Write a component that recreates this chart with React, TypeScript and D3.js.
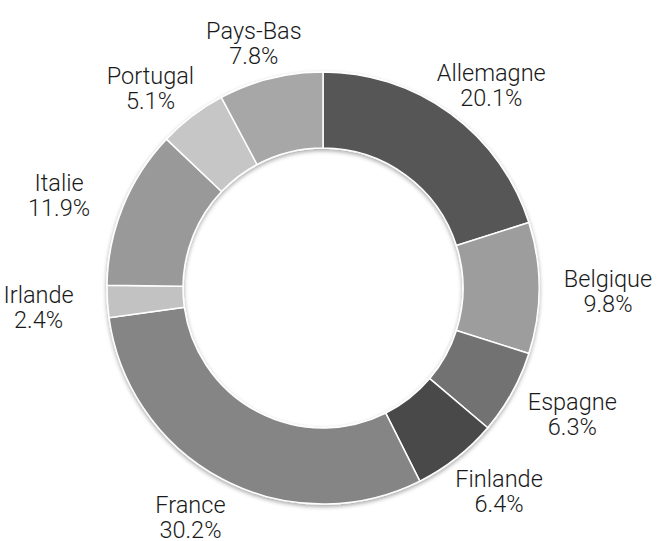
import React from 'react';
import {pie, arc} from 'd3';

const countries = ['Allemagne', 'Belgique', 'Espagne', 'Finlande', 'France', 'Irlande', 'Italie', 'Portugal', 'Pays-Bas'];
const shares = [20.1, 9.8, 6.3, 6.4, 30.2, 2.4, 11.9, 5.1, 7.8];
const greys = ['#565656', '#9d9d9d', '#727272', '#484848', '#858585', '#c2c2c2', '#999999', '#c6c6c6', '#a7a7a7'];

const width = 658;
const height = 541;
const cx = 323;
const cy = 288;
const outerR = 216;
const innerR = 140;
// labels sit on an ellipse round the ring
const labelRx = 285;
const labelRy = 255;
const fontSize = 23.5;
const lineGap = 25;

export default function App() {
    const rows = countries.map((name, i) => ({name, value: shares[i], color: greys[i]}));
    const slices = pie<any>().value(d => d.value).sort(null)(rows);
    const ringArc = arc<any>().innerRadius(innerR).outerRadius(outerR);

    return (
        <svg width={width} height={height} style={{position: 'absolute', left: 0, top: 0}}
             fontFamily="Roboto, 'Helvetica Neue', Arial, sans-serif">
            <defs>
                <filter id="ringShadow" x="-20%" y="-20%" width="140%" height="140%">
                    <feDropShadow dx="0" dy="2" stdDeviation="2" floodColor="#000" floodOpacity="0.35"/>
                </filter>
            </defs>
            <g transform={`translate(${cx},${cy})`}>
                <g filter="url(#ringShadow)">
                    {slices.map((d, idx) => (
                        <path key={idx} d={ringArc(d) as string} fill={d.data.color}
                              stroke="#fff" strokeWidth={1.5}/>
                    ))}
                </g>
                {slices.map((d, idx) => {
                    const a = (d.startAngle + d.endAngle) / 2;
                    const x = labelRx * Math.sin(a);
                    const y = 3 - labelRy * Math.cos(a);
                    const first = y - lineGap / 2 + fontSize * 0.355;
                    return (
                        <text key={idx} textAnchor="middle" fontSize={fontSize}
                              fontWeight={300} fill="#1a1a1a">
                            <tspan x={x} y={first}>{d.data.name}</tspan>
                            <tspan x={x} y={first + lineGap}>{d.data.value.toFixed(1)}%</tspan>
                        </text>
                    );
                })}
            </g>
        </svg>
    );
}
